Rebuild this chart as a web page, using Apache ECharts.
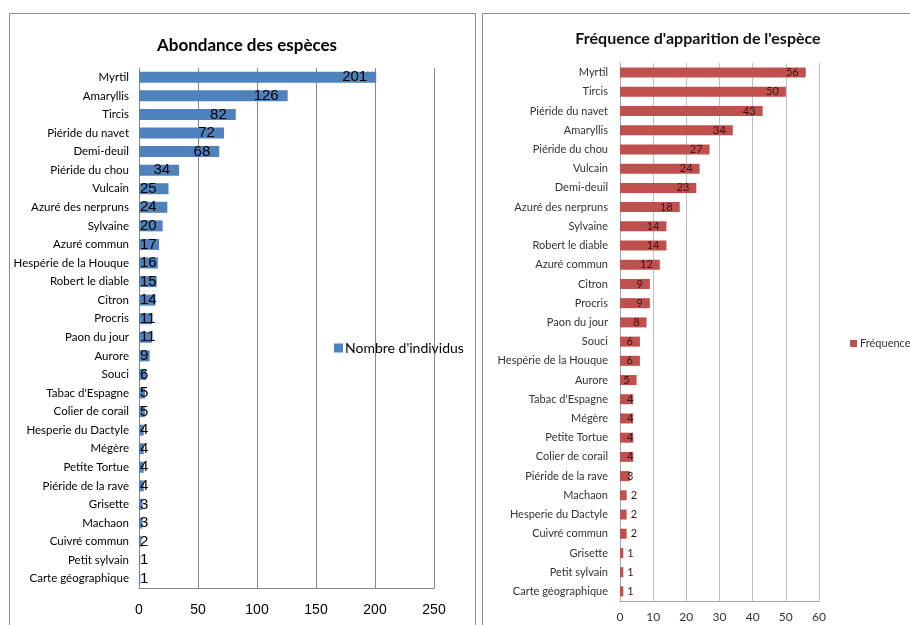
<!DOCTYPE html>
<html>
<head>
<meta charset="utf-8">
<script src="https://cdn.jsdelivr.net/npm/echarts@6/dist/echarts.min.js"></script>
<style>
  html, body { margin: 0; padding: 0; background: #fff; }
  #chart { width: 910px; height: 625px; }
</style>
</head>
<body>
<div id="chart"></div>
<script>
// Abondance : nombre d'individus par espèce
const abondanceEspeces = [
  'Myrtil', 'Amaryllis', 'Tircis', 'Piéride du navet', 'Demi-deuil',
  'Piéride du chou', 'Vulcain', 'Azuré des nerpruns', 'Sylvaine', 'Azuré commun',
  'Hespérie de la Houque', 'Robert le diable', 'Citron', 'Procris', 'Paon du jour',
  'Aurore', 'Souci', "Tabac d'Espagne", 'Colier de corail', 'Hesperie du Dactyle',
  'Mégère', 'Petite Tortue', 'Piéride de la rave', 'Grisette', 'Machaon',
  'Cuivré commun', 'Petit sylvain', 'Carte géographique'
];
const abondanceValeurs = [
  201, 126, 82, 72, 68,
  34, 25, 24, 20, 17,
  16, 15, 14, 11, 11,
  9, 6, 5, 5, 4,
  4, 4, 4, 3, 3,
  2, 1, 1
];
const abondanceTicks = [0, 50, 100, 150, 200, 250];

// Fréquence d'apparition par espèce
const frequenceEspeces = [
  'Myrtil', 'Tircis', 'Piéride du navet', 'Amaryllis', 'Piéride du chou',
  'Vulcain', 'Demi-deuil', 'Azuré des nerpruns', 'Sylvaine', 'Robert le diable',
  'Azuré commun', 'Citron', 'Procris', 'Paon du jour', 'Souci',
  'Hespérie de la Houque', 'Aurore', "Tabac d'Espagne", 'Mégère', 'Petite Tortue',
  'Colier de corail', 'Piéride de la rave', 'Machaon', 'Hesperie du Dactyle', 'Cuivré commun',
  'Grisette', 'Petit sylvain', 'Carte géographique'
];
const frequenceValeurs = [
  56, 50, 43, 34, 27,
  24, 23, 18, 14, 14,
  12, 9, 9, 8, 6,
  6, 5, 4, 4, 4,
  4, 3, 2, 2, 2,
  1, 1, 1
];
const frequenceTicks = [0, 10, 20, 30, 40, 50, 60];

const bodyFont = 'Lato, "Liberation Sans", sans-serif';
const digitFont = '"Liberation Sans", sans-serif';

// Value labels: inside the bar end when there is room, otherwise from the bar start
const abondanceData = abondanceValeurs.map(v => v >= 30
  ? { value: v }
  : { value: v, label: { position: 'insideLeft', distance: 1 } });

const frequenceData = frequenceValeurs.map(v => {
  if (v >= 5) return { value: v };
  if (v >= 3) return { value: v, label: { position: 'insideLeft', distance: 7 } };
  return { value: v, label: { position: 'right', distance: 4 } };
});

const chart = echarts.init(document.getElementById('chart'), null, { renderer: 'canvas' });

chart.setOption({
  animation: false,
  backgroundColor: '#ffffff',
  graphic: [
    { type: 'rect', shape: { x: 9.5, y: 13.5, width: 466, height: 640 },
      style: { fill: 'none', stroke: '#8c8c8c', lineWidth: 1 }, silent: true },
    { type: 'rect', shape: { x: 482.5, y: 13.5, width: 460, height: 640 },
      style: { fill: 'none', stroke: '#8c8c8c', lineWidth: 1 }, silent: true }
  ],
  title: [
    {
      text: 'Abondance des espèces',
      left: 242, top: 32, textAlign: 'center',
      textStyle: { fontFamily: bodyFont, fontSize: 17, fontWeight: 'bold', color: '#000' }
    },
    {
      text: "Fréquence d'apparition de l'espèce",
      left: 693, top: 26, textAlign: 'center',
      textStyle: { fontFamily: bodyFont, fontSize: 16, fontWeight: 'bold', color: '#111' }
    }
  ],
  legend: [
    {
      data: ["Nombre d'individus"],
      left: 329, top: 336,
      itemWidth: 9, itemHeight: 9, itemGap: 4,
      icon: 'rect',
      textStyle: { fontFamily: bodyFont, fontSize: 14, color: '#000', padding: [0, 0, 0, -3] }
    },
    {
      data: ['Fréquence'],
      left: 845, top: 333,
      itemWidth: 7, itemHeight: 7, itemGap: 3,
      icon: 'rect',
      textStyle: { fontFamily: bodyFont, fontSize: 11, color: '#333', padding: [0, 0, 0, -2] }
    }
  ],
  grid: [
    { left: 139, top: 68, width: 295, height: 520, containLabel: false },
    { left: 620, top: 63, width: 199, height: 538, containLabel: false }
  ],
  xAxis: [
    {
      gridIndex: 0, type: 'value',
      min: abondanceTicks[0], max: abondanceTicks[abondanceTicks.length - 1],
      interval: abondanceTicks[1] - abondanceTicks[0],
      axisLine: { show: true, lineStyle: { color: '#868686' } },
      axisTick: { show: false },
      splitLine: { show: true, lineStyle: { color: '#868686', width: 1 } },
      axisLabel: { fontFamily: digitFont, fontSize: 14, color: '#000', margin: 15 }
    },
    {
      gridIndex: 1, type: 'value',
      min: frequenceTicks[0], max: frequenceTicks[frequenceTicks.length - 1],
      interval: frequenceTicks[1] - frequenceTicks[0],
      axisLine: { show: true, lineStyle: { color: '#a6a6a6' } },
      axisTick: { show: false },
      splitLine: { show: true, lineStyle: { color: '#bfbfbf', width: 1 } },
      axisLabel: { fontFamily: bodyFont, fontSize: 12, color: '#333', margin: 10 }
    }
  ],
  yAxis: [
    {
      gridIndex: 0, type: 'category', inverse: true,
      data: abondanceEspeces,
      axisLine: { show: true, lineStyle: { color: '#868686' } },
      axisTick: { show: false },
      axisLabel: { fontFamily: bodyFont, fontSize: 11.5, color: '#000', margin: 10, interval: 0 }
    },
    {
      gridIndex: 1, type: 'category', inverse: true,
      data: frequenceEspeces,
      axisLine: { show: true, lineStyle: { color: '#a6a6a6' } },
      axisTick: { show: false },
      axisLabel: { fontFamily: bodyFont, fontSize: 11, color: '#333', margin: 12, interval: 0 }
    }
  ],
  series: [
    {
      name: "Nombre d'individus",
      type: 'bar',
      xAxisIndex: 0, yAxisIndex: 0,
      data: abondanceData,
      barWidth: 11,
      itemStyle: { color: '#4f81bd' },
      label: {
        show: true, position: 'insideRight', distance: 9,
        fontFamily: digitFont, fontSize: 15, color: '#000'
      }
    },
    {
      name: 'Fréquence',
      type: 'bar',
      xAxisIndex: 1, yAxisIndex: 1,
      data: frequenceData,
      barWidth: 10,
      itemStyle: { color: '#c0504d' },
      label: {
        show: true, position: 'insideRight', distance: 7,
        fontFamily: bodyFont, fontSize: 11, color: '#3a1414'
      }
    }
  ]
});
</script>
</body>
</html>
